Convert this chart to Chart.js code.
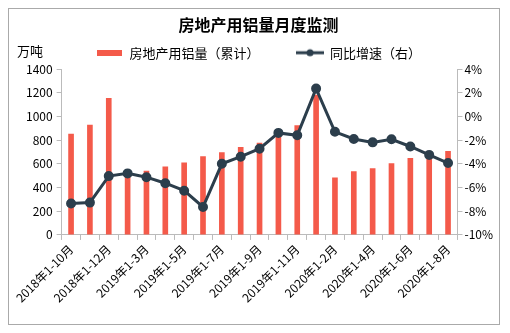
<!DOCTYPE html>
<html>
<head>
<meta charset="utf-8">
<script src="https://cdn.jsdelivr.net/npm/chart.js@4"></script>
<style>
  body { margin: 0; background: #fff; }
  #box { position: absolute; left: 8px; top: 8px; width: 490px; height: 315px; border: 1px solid #aaa; }
  #unit { position: absolute; left: 8px; top: 32px; font: 13px "Noto Sans CJK SC"; color: #000; }
</style>
</head>
<body>
<div id="box">
  <canvas id="chart1" width="490" height="315"></canvas>
  <div id="unit">万吨</div>
</div>
<script>
// 类目与数据
const categories = ['2018年1-10月', '2018年1-11月', '2018年1-12月', '2019年1-2月', '2019年1-3月', '2019年1-4月',
  '2019年1-5月', '2019年1-6月', '2019年1-7月', '2019年1-8月', '2019年1-9月', '2019年1-10月', '2019年1-11月',
  '2019年1-12月', '2020年1-2月', '2020年1-3月', '2020年1-4月', '2020年1-5月', '2020年1-6月', '2020年1-7月', '2020年1-8月'];
const yongLv = [855, 931, 1156, 494, 543, 578, 612, 664, 698, 742, 778, 842, 926, 1184, 486, 537, 563, 606, 650, 681, 710];
const tongBi = [-7.35, -7.27, -5.03, -4.8, -5.12, -5.63, -6.26, -7.64, -3.99, -3.39, -2.72, -1.38, -1.58, 2.36,
  -1.29, -1.89, -2.18, -1.92, -2.53, -3.24, -3.93];
const leftTicks = [0, 200, 400, 600, 800, 1000, 1200, 1400];
const rightTicks = [-10, -8, -6, -4, -2, 0, 2, 4];

const red = '#F45A4A';
const dark = '#2C3E4C';

// 图例里的"线+圆点"图标
const lineIcon = document.createElement('canvas');
lineIcon.width = 28; lineIcon.height = 10;
const lc = lineIcon.getContext('2d');
lc.strokeStyle = dark; lc.lineWidth = 3;
lc.beginPath(); lc.moveTo(0, 5); lc.lineTo(28, 5); lc.stroke();
lc.fillStyle = dark; lc.beginPath(); lc.arc(14, 5, 3.5, 0, Math.PI * 2); lc.fill();

const barIcon = document.createElement('canvas');
barIcon.width = 25; barIcon.height = 6;
const bc = barIcon.getContext('2d');
bc.fillStyle = red; bc.fillRect(0, 0, 25, 6);

Chart.defaults.font.family = '"Noto Sans CJK SC", sans-serif';
Chart.defaults.font.size = 12;
Chart.defaults.color = '#000';

const ctx = document.getElementById('chart1').getContext('2d');
const myChart = new Chart(ctx, {
  type: 'bar',
  data: {
    labels: categories,
    datasets: [{
      type: 'line',
      label: '同比增速（右）',
      data: tongBi,
      yAxisID: 'y2',
      borderColor: dark,
      backgroundColor: dark,
      borderWidth: 3,
      pointRadius: 3.5,
      pointHoverRadius: 3.5,
      tension: 0,
      order: 0
    }, {
      label: '房地产用铝量（累计）',
      data: yongLv,
      yAxisID: 'y',
      backgroundColor: red,
      barPercentage: 0.3,
      categoryPercentage: 1,
      order: 1
    }]
  },
  options: {
    responsive: false,
    animation: false,
    layout: { padding: { left: 13, right: 4, top: 0, bottom: 17 } },
    plugins: {
      title: {
        display: true,
        text: '房地产用铝量月度监测',
        font: { size: 16, weight: 'bold' },
        padding: { top: 6, bottom: 4 }
      },
      legend: {
        labels: {
          usePointStyle: true,
          pointStyleWidth: 27,
          padding: 8,
          font: { size: 13 },
          generateLabels: function(chart) {
            return [
              { text: '房地产用铝量（累计）          ', pointStyle: barIcon, datasetIndex: 1, fillStyle: red, strokeStyle: red, lineWidth: 0 },
              { text: '同比增速（右）', pointStyle: lineIcon, datasetIndex: 0, fillStyle: dark, strokeStyle: dark, lineWidth: 0 }
            ];
          }
        }
      },
      tooltip: { enabled: false }
    },
    scales: {
      x: {
        offset: true,
        grid: { display: true, drawOnChartArea: false, offset: true, color: '#bbb', tickLength: 5 },
        border: { color: '#bbb' },
        ticks: {
          autoSkip: false,
          maxRotation: 45,
          minRotation: 45,
          padding: 2,
          callback: function(v, i) { return i % 2 === 0 ? categories[i] : ''; }
        }
      },
      y: {
        position: 'left',
        min: 0,
        max: 1400,
        afterBuildTicks: function(s) { s.ticks = leftTicks.map(v => ({ value: v })); },
        grid: { display: true, drawOnChartArea: false, color: '#bbb', tickLength: 5 },
        border: { color: '#bbb' },
        ticks: { padding: 4, callback: v => String(v) }
      },
      y2: {
        position: 'right',
        min: -10,
        max: 4,
        afterBuildTicks: function(s) { s.ticks = rightTicks.map(v => ({ value: v })); },
        grid: { display: true, drawOnChartArea: false, color: '#bbb', tickLength: 5 },
        border: { color: '#bbb' },
        ticks: { padding: 2, callback: v => v + '%' }
      }
    }
  }
});
</script>
</body>
</html>
